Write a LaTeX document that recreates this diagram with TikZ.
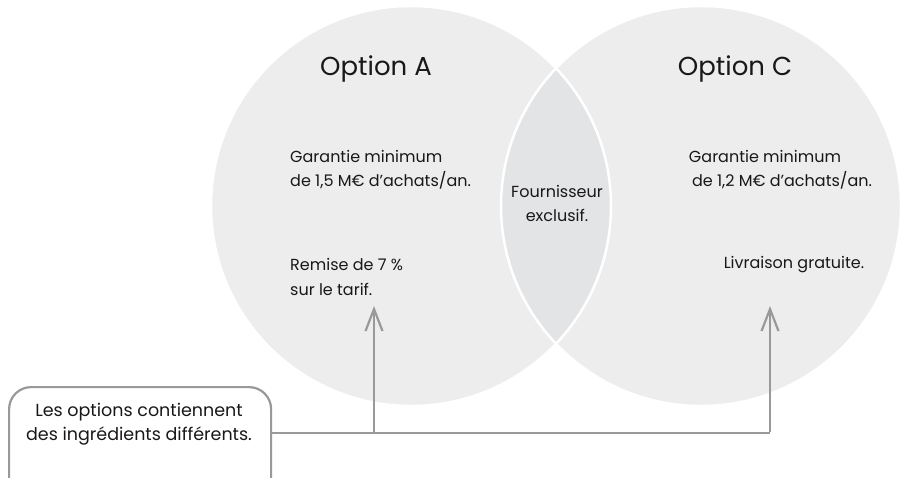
\documentclass[tikz,border=0pt]{standalone}
\usepackage{fontspec}
\setmainfont{Poppins}
\usetikzlibrary{arrows.meta,calc}
\definecolor{circfill}{HTML}{EDEDED}
\definecolor{lensfill}{HTML}{E3E4E6}
\definecolor{linegray}{HTML}{999999}
\definecolor{txt}{HTML}{1A1718}
\tikzset{
  conn/.style={draw=linegray, line width=2.2pt},
  arr/.style={conn, -{Straight Barb[length=22pt,width=17pt,line width=2.2pt]}},
  lbl/.style={text=txt, font=\fontsize{16}{24}\selectfont, inner sep=0pt, align=left},
  boxlbl/.style={text=txt, font=\fontsize{17.5}{24}\selectfont, inner sep=0pt, align=center},
  title/.style={text=txt, font=\fontsize{26}{30}\selectfont, inner sep=0pt},
}
\begin{document}
\begin{tikzpicture}[x=1pt,y=-1pt]
\useasboundingbox (0,0) rectangle (901,478);
\clip (0,0) rectangle (901,478);
% circles
\fill[circfill] (411,206) circle (200);
\fill[circfill] (701,206) circle (200);
\begin{scope}
  \clip (411,206) circle (200);
  \fill[lensfill] (701,206) circle (200);
\end{scope}
\draw[white, line width=2.5pt] (411,206) circle (200);
\draw[white, line width=2.5pt] (701,206) circle (200);
% titles
\node[title] (tA) at (376,69) {Option A};
\node[title] (tC) at (735,69) {Option C};
% left texts
\node[lbl, anchor=west] (gA1) at (290,156) {Garantie minimum};
\node[lbl, anchor=west] (gA2) at (290,180) {de 1,5 M€ d’achats/an.};
\node[lbl, anchor=west] (rA1) at (290,265) {Remise de 7~\%};
\node[lbl, anchor=west] (rA2) at (290,289) {sur le tarif.};
% centre
\node[lbl, align=center] (mid) at (557,203) {Fournisseur\\exclusif.};
% right texts
\node[lbl] (gC1) at (765,156) {Garantie minimum};
\node[lbl] (gC2) at (782,180) {de 1,2 M€ d’achats/an.};
\node[lbl] (lC) at (794,265) {Livraison gratuite.};
% callout box
\node[draw=linegray, line width=2.2pt, rounded corners=22pt, minimum width=262pt, minimum height=120pt, anchor=north west, inner sep=0pt] (box) at (8,386) {};
\node[boxlbl] (boxtxt) at (139,424) {Les options contiennent\\des ingrédients différents.};
% connectors
\coordinate (bx) at (270,433);
\coordinate (jA) at (374,433);
\coordinate (jC) at (770,433);
\coordinate (tipA) at (374,306);
\coordinate (tipC) at (770,306);
\draw[conn] (bx) -- (jC);
\draw[arr] (jA) -- (tipA);
\draw[arr] ([yshift=1.1pt]jC) -- (tipC);
\end{tikzpicture}
\end{document}
